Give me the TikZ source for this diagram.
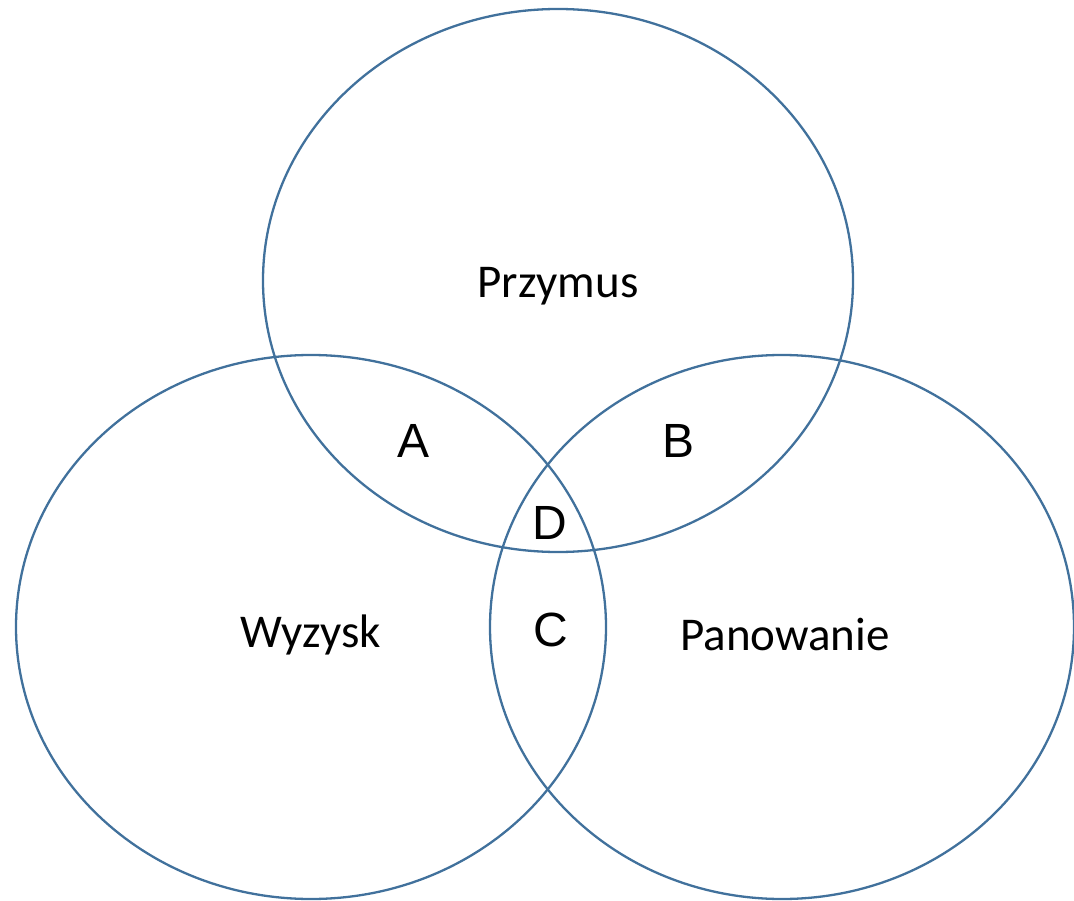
\documentclass[tikz,border=0pt]{standalone}
\usepackage{fontspec}
\setmainfont{Carlito}
\newfontfamily\arialf{Liberation Sans}
\definecolor{venn}{HTML}{41719C}
\begin{document}
\begin{tikzpicture}[x=1pt,y=-1pt,
  setline/.style={draw=venn,line width=2.3pt},
  word/.style={font=\fontsize{47}{52}\selectfont,inner sep=0pt},
  letter/.style={font=\arialf\fontsize{48}{54}\selectfont,inner sep=0pt}]
\useasboundingbox (0,0) rectangle (1074,901);
\draw[setline] (558,280.5) ellipse [x radius=295, y radius=271.5];
\draw[setline] (311,627) ellipse [x radius=295, y radius=272];
\draw[setline] (782,627) ellipse [x radius=292, y radius=272];
\node[word] (przymus) at (558,286) {Przymus};
\node[word] (wyzysk) at (311,635) {Wyzysk};
\node[word] (panowanie) at (785,635) {Panowanie};
\node[letter] (a) at (414,441) {A};
\node[letter] (b) at (679,441) {B};
\node[letter] (d) at (550,523) {D};
\node[letter] (c) at (551,630) {C};
\end{tikzpicture}
\end{document}
